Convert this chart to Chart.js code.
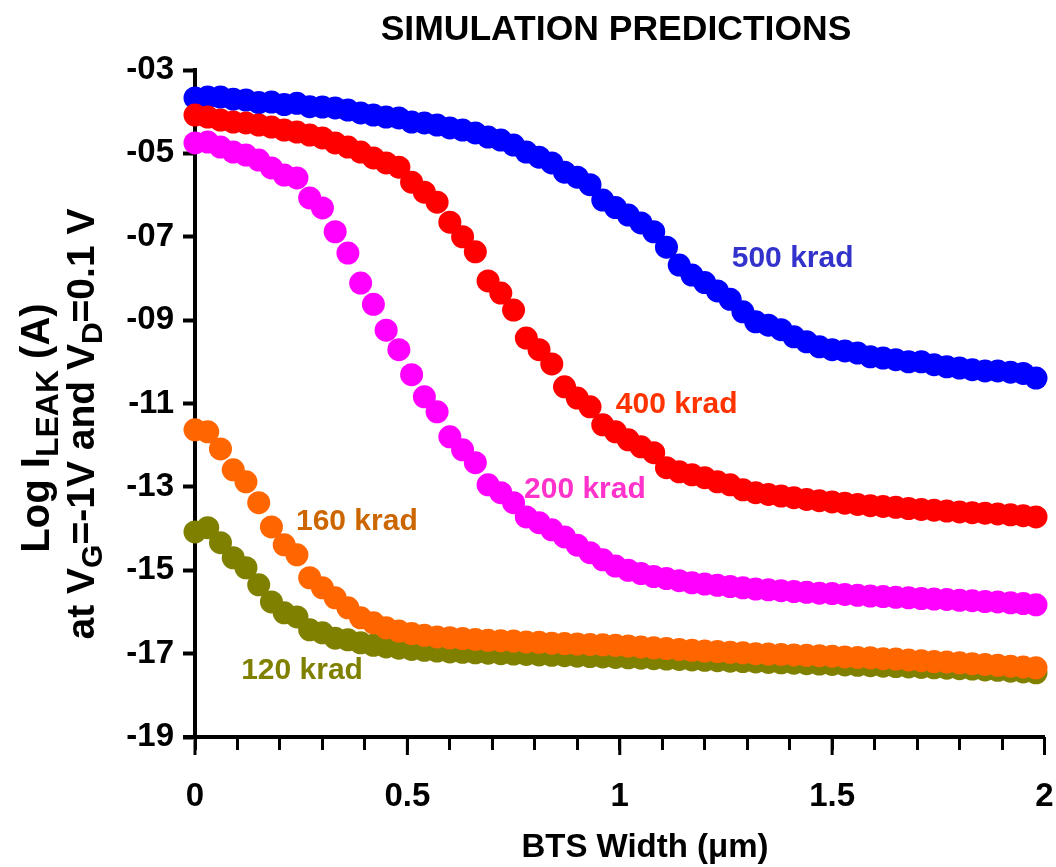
<!DOCTYPE html>
<html>
<head>
<title>Simulation Predictions</title>
<script src="https://cdn.jsdelivr.net/npm/chart.js"></script>
<style>
  body { margin: 0; background: #fff; }
</style>
</head>
<body>
<canvas id="myChart" width="1056" height="867"></canvas>
<script>
// BTS width (um) of every simulated point
var widths = [0, 0.03, 0.06, 0.09, 0.12, 0.15, 0.18, 0.21, 0.24, 0.27, 0.30, 0.33, 0.36, 0.39, 0.42, 0.45, 0.48,
  0.51, 0.54, 0.57, 0.60, 0.63, 0.66, 0.69, 0.72, 0.75, 0.78, 0.81, 0.84, 0.87, 0.90, 0.93, 0.96, 0.99,
  1.02, 1.05, 1.08, 1.11, 1.14, 1.17, 1.20, 1.23, 1.26, 1.29, 1.32, 1.35, 1.38, 1.41, 1.44, 1.47, 1.50,
  1.53, 1.56, 1.59, 1.62, 1.65, 1.68, 1.71, 1.74, 1.77, 1.80, 1.83, 1.86, 1.89, 1.92, 1.95, 1.98];

// log leakage current per dose
var krad500 = [-3.67, -3.65, -3.65, -3.7, -3.72, -3.78, -3.77, -3.83, -3.8, -3.88, -3.89, -3.91, -3.96, -4.03,
  -4.08, -4.13, -4.15, -4.25, -4.27, -4.32, -4.39, -4.44, -4.51, -4.61, -4.68, -4.8, -4.97, -5.09, -5.23,
  -5.45, -5.57, -5.75, -6.12, -6.3,
  -6.48, -6.67, -6.88, -7.25, -7.68, -7.92, -8.1, -8.3, -8.5, -8.8, -9.04, -9.12, -9.23, -9.4, -9.52, -9.64,
  -9.71, -9.74, -9.79, -9.88, -9.91, -9.95, -10.0, -10.0, -10.07, -10.12, -10.15, -10.19, -10.22, -10.22,
  -10.25, -10.28, -10.39];
var krad400 = [-4.08, -4.13, -4.2, -4.25, -4.27, -4.32, -4.37, -4.44, -4.49, -4.56, -4.63, -4.75, -4.85, -4.97,
  -5.11, -5.23, -5.33, -5.69, -5.93, -6.17, -6.65, -7.0, -7.36, -8.06, -8.35, -8.76, -9.43, -9.71, -10.05,
  -10.6, -10.87, -11.08, -11.51, -11.68, -11.87, -12.04, -12.18, -12.54, -12.64, -12.71, -12.78, -12.88,
  -12.95, -13.07, -13.14, -13.18, -13.22, -13.26, -13.3, -13.33, -13.36, -13.39, -13.42, -13.45, -13.47,
  -13.49, -13.52, -13.54, -13.56, -13.58, -13.6, -13.62, -13.63, -13.65, -13.67, -13.69, -13.72];
var krad200 = [-4.75, -4.73, -4.85, -4.97, -5.04, -5.16, -5.35, -5.52, -5.59, -6.07, -6.31, -6.88, -7.39, -8.11,
  -8.62, -9.24, -9.71, -10.31, -10.84, -11.2, -11.8, -12.11, -12.42, -12.95, -13.14, -13.38, -13.72, -13.86,
  -14.03, -14.2,
  -14.4, -14.58, -14.75, -14.9, -15.0, -15.08, -15.15, -15.2, -15.25, -15.3, -15.33, -15.36, -15.39, -15.42,
  -15.45, -15.47, -15.49, -15.51, -15.53, -15.55, -15.56, -15.58, -15.6, -15.62, -15.63, -15.65, -15.66,
  -15.68, -15.69, -15.7, -15.72, -15.73, -15.75, -15.76, -15.78, -15.8, -15.83];
var krad160 = [-11.63, -11.68, -12.09, -12.59, -12.88, -13.38, -13.96, -14.39, -14.63, -15.18, -15.42, -15.66,
  -15.9, -16.14, -16.26, -16.38, -16.46, -16.52, -16.56, -16.6, -16.62, -16.64, -16.66, -16.68, -16.69, -16.7,
  -16.72, -16.73, -16.75, -16.76, -16.77, -16.78, -16.79, -16.8, -16.82, -16.84, -16.86, -16.88, -16.9,
  -16.92, -16.94, -16.95, -16.97, -16.98, -17.0, -17.01, -17.02, -17.03, -17.04, -17.05, -17.06, -17.08,
  -17.09, -17.1, -17.12, -17.13, -17.15, -17.17, -17.19, -17.2, -17.22, -17.24, -17.26, -17.28, -17.3,
  -17.32, -17.34];
var krad120 = [-14.08, -13.98, -14.34, -14.7, -14.94, -15.35, -15.76, -16.02, -16.12, -16.43, -16.5, -16.63,
  -16.67, -16.74, -16.8, -16.84, -16.87, -16.9, -16.92, -16.94, -16.96, -16.97, -16.98, -16.99, -17.0,
  -17.01, -17.02, -17.03, -17.04, -17.05, -17.06, -17.07, -17.08, -17.09, -17.1, -17.11, -17.12, -17.13,
  -17.14, -17.15, -17.16, -17.17, -17.18, -17.19, -17.2, -17.21, -17.22, -17.23, -17.24, -17.25, -17.26,
  -17.27, -17.28, -17.29, -17.3, -17.31, -17.32, -17.33, -17.34, -17.35, -17.36, -17.37, -17.39, -17.4,
  -17.42, -17.44, -17.46];

var yTickLabels = ['-19', '-17', '-15', '-13', '-11', '-09', '-07', '-05', '-03'];
var xTickLabels = ['0', '0.5', '1', '1.5', '2'];

var FONT = '"Liberation Sans", Arial, sans-serif';
Chart.defaults.font.family = FONT;

function pts(vals) {
  return vals.map(function (v, i) { return { x: widths[i], y: v }; });
}

function ds(label, vals, color) {
  return {
    label: label,
    data: pts(vals),
    backgroundColor: color,
    borderWidth: 0,
    pointRadius: 11.5,
    pointHoverRadius: 11.5,
    showLine: false,
    clip: false
  };
}

// curve labels: text, colour, where (in data units)
var curveLabels = [
  { text: '500 krad', color: '#3333CC', x: 1.407, y: -7.53 },
  { text: '400 krad', color: '#FF3300', x: 1.134, y: -11.03 },
  { text: '200 krad', color: '#FF33CC', x: 0.918, y: -13.07 },
  { text: '160 krad', color: '#CC6600', x: 0.381, y: -13.84 },
  { text: '120 krad', color: '#808000', x: 0.252, y: -17.41 }
];

function drawParts(ctx, parts, size, subSize) {
  var w = 0;
  parts.forEach(function (p) {
    ctx.font = 'bold ' + (p.sub ? subSize : size) + 'px ' + FONT;
    p.w = ctx.measureText(p.t).width;
    w += p.w;
  });
  var x = -w / 2;
  parts.forEach(function (p) {
    ctx.font = 'bold ' + (p.sub ? subSize : size) + 'px ' + FONT;
    ctx.fillText(p.t, x, p.sub ? size * 0.28 : 0);
    x += p.w;
  });
}

var textPlugin = {
  id: 'texts',
  afterDraw: function (chart) {
    var ctx = chart.ctx;
    var xs = chart.scales.x, ys = chart.scales.y;
    ctx.save();

    // longer marks at the labelled x ticks, axis stub left of the y axis
    ctx.strokeStyle = '#000';
    ctx.lineWidth = 3;
    xTickLabels.forEach(function (t) {
      var px = xs.getPixelForValue(parseFloat(t));
      ctx.beginPath();
      ctx.moveTo(px, ys.bottom);
      ctx.lineTo(px, ys.bottom + 18);
      ctx.stroke();
    });
    ctx.lineWidth = 4;
    ctx.beginPath();
    ctx.moveTo(xs.left - 12, ys.bottom);
    ctx.lineTo(xs.left, ys.bottom);
    ctx.stroke();

    ctx.fillStyle = '#000';
    ctx.textAlign = 'center';
    ctx.textBaseline = 'middle';
    ctx.font = 'bold 35.5px ' + FONT;
    ctx.fillText('SIMULATION PREDICTIONS', 616, 30);

    ctx.font = 'bold 33px ' + FONT;
    ctx.fillText('BTS Width (\u03bcm)', 645, 848);

    // rotated y title with subscripts
    ctx.textAlign = 'left';
    ctx.save();
    ctx.translate(38, 428);
    ctx.rotate(-Math.PI / 2);
    drawParts(ctx, [{ t: 'Log I' }, { t: 'LEAK', sub: true }, { t: ' (A)' }], 40, 32);
    ctx.restore();
    ctx.save();
    ctx.translate(83, 424);
    ctx.rotate(-Math.PI / 2);
    drawParts(ctx, [{ t: 'at V' }, { t: 'G', sub: true }, { t: '=-1V and V' }, { t: 'D', sub: true }, { t: '=0.1 V' }], 39, 30);
    ctx.restore();

    ctx.textAlign = 'center';
    ctx.font = 'bold 30px ' + FONT;
    curveLabels.forEach(function (c) {
      ctx.fillStyle = c.color;
      ctx.fillText(c.text, xs.getPixelForValue(c.x), ys.getPixelForValue(c.y));
    });
    ctx.restore();
  }
};

new Chart(document.getElementById('myChart').getContext('2d'), {
  type: 'scatter',
  data: {
    datasets: [
      ds('160 krad', krad160, '#FF6600'),
      ds('120 krad', krad120, '#808000'),
      ds('200 krad', krad200, '#FF00FF'),
      ds('400 krad', krad400, '#FF0000'),
      ds('500 krad', krad500, '#0000FF')
    ]
  },
  options: {
    responsive: false,
    animation: false,
    layout: { padding: { top: 70, right: 11, left: 0, bottom: 0 } },
    plugins: {
      legend: { display: false },
      tooltip: { enabled: false }
    },
    scales: {
      x: {
        type: 'linear',
        min: 0,
        max: 2,
        afterFit: function (s) { s.height = 130; s.paddingLeft = 0; s.paddingRight = 0; },
        ticks: {
          stepSize: 0.1,
          autoSkip: false,
          maxRotation: 0,
          color: '#000',
          font: { size: 33, weight: 'bold' },
          padding: 27,
          callback: function (v, i) { return i % 5 === 0 ? xTickLabels[i / 5] : ''; }
        },
        grid: { drawOnChartArea: false, tickLength: 13, tickWidth: 3, tickColor: '#000' },
        border: { display: true, width: 4, color: '#000' },
        title: { display: false }
      },
      y: {
        min: -19,
        max: -3,
        afterFit: function (s) { s.width = 195; s.paddingTop = 0; s.paddingBottom = 0; },
        ticks: {
          stepSize: 2,
          color: '#000',
          font: { size: 33, weight: 'bold' },
          padding: 9,
          callback: function (v, i) { return yTickLabels[i]; }
        },
        grid: { drawOnChartArea: false, tickLength: 12, tickWidth: 4, tickColor: '#000' },
        border: { display: true, width: 4, color: '#000' }
      }
    }
  },
  plugins: [textPlugin]
});
</script>
</body>
</html>
